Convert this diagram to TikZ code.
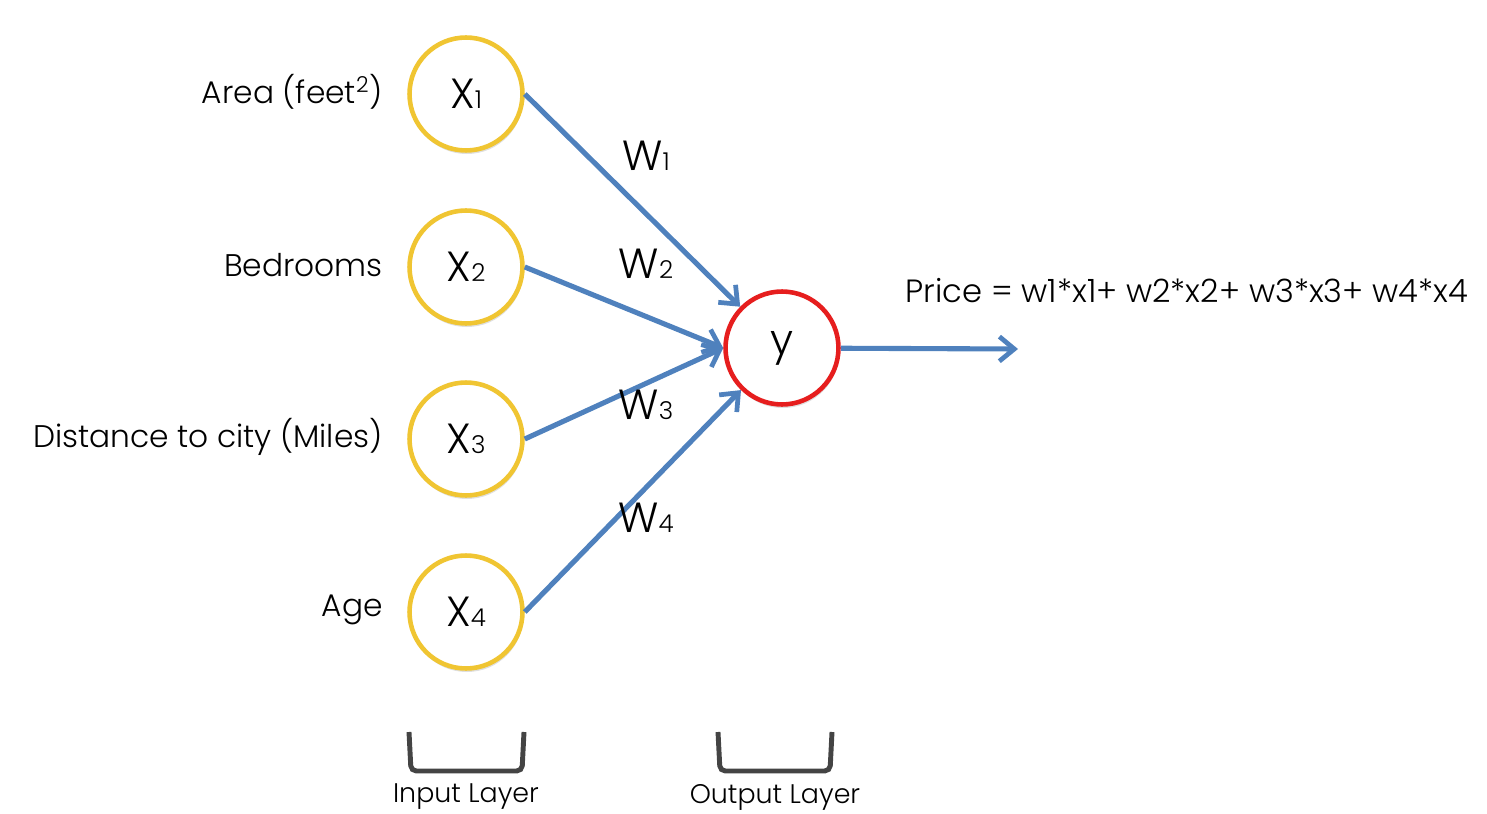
\documentclass[tikz,border=0pt]{standalone}
\usepackage{fontspec}
\setmainfont{Poppins}[UprightFont={* Light}]
\usetikzlibrary{arrows.meta,shadows}
\definecolor{wblue}{RGB}{79,129,189}
\definecolor{inyellow}{RGB}{240,197,50}
\definecolor{outred}{RGB}{230,30,30}
\definecolor{brgray}{RGB}{68,68,68}
\newcommand{\sfs}[1]{{\fontsize{14}{16}\selectfont #1}}

\begin{document}
\begin{tikzpicture}[x=0.02cm, y=-0.02cm,
    neuron/.style={circle, fill=white, line width=2.6pt, minimum size=2.26cm, inner sep=0pt,
        drop shadow={shadow xshift=0.5pt, shadow yshift=-2pt, opacity=0.25}},
    inp/.style={neuron, draw=inyellow},
    outp/.style={neuron, draw=outred},
    wire/.style={wblue, line width=2.9pt, -{Straight Barb[length=8.5pt, width=14pt, line width=2.7pt]}},
    feat/.style={anchor=east, inner sep=0pt, font=\fontsize{17.8}{22}\selectfont},
    wlab/.style={font=\fontsize{24}{28}\selectfont},
    layer/.style={font=\fontsize{15.3}{18}\selectfont},
    bracket/.style={brgray, line width=2.8pt, rounded corners=3pt}]
    \useasboundingbox (0,0) rectangle (1487,814);

    % input layer
    \foreach \i/\yy in {1/94, 2/267, 3/439, 4/612}{
    \node[inp] (x\i) at (466,\yy) {\fontsize{24}{28}\selectfont X\sfs{\i}};
    }
    \node[outp] (y) at (782,348) {\fontsize{24}{28}\selectfont y};

    \node[feat] (A) at (383,92) {Area (feet\textsuperscript{2})};
    \node[feat] (B) at (383,265) {Bedrooms};
    \node[feat] (C) at (383,437) {Distance to city (Miles)};
    \node[feat] (D) at (383,610) {Age};

    % weights
    \foreach \i/\t in {1/y, 2/y.west, 3/y.west, 4/y}{
    \draw[wire] (x\i.east) -- (\t);
    }
    \node[wlab] (w1) at (646,156) {W\sfs{1}};
    \node[wlab] (w2) at (646,264) {W\sfs{2}};
    \node[wlab] (w3) at (646,405) {W\sfs{3}};
    \node[wlab] (w4) at (646,518) {W\sfs{4}};

    % output
    \coordinate (out) at (1018,349);
    \draw[wire] (y) -- (out);
    \node[anchor=west, inner sep=0pt, font=\fontsize{18.3}{22}\selectfont] (price) at (905,291)
        {Price = w1*x1+ w2*x2+ w3*x3+ w4*x4};

    % layer brackets
    \draw[bracket] (409,732) -- (411,771) -- (522,771) -- (524,732);
    \draw[bracket] (718,732) -- (720,771) -- (830,771) -- (832,732);
    \node[layer] (L1) at (466,797) {Input Layer};
    \node[layer] (L2) at (775,797) {Output Layer};
\end{tikzpicture}
\end{document}
